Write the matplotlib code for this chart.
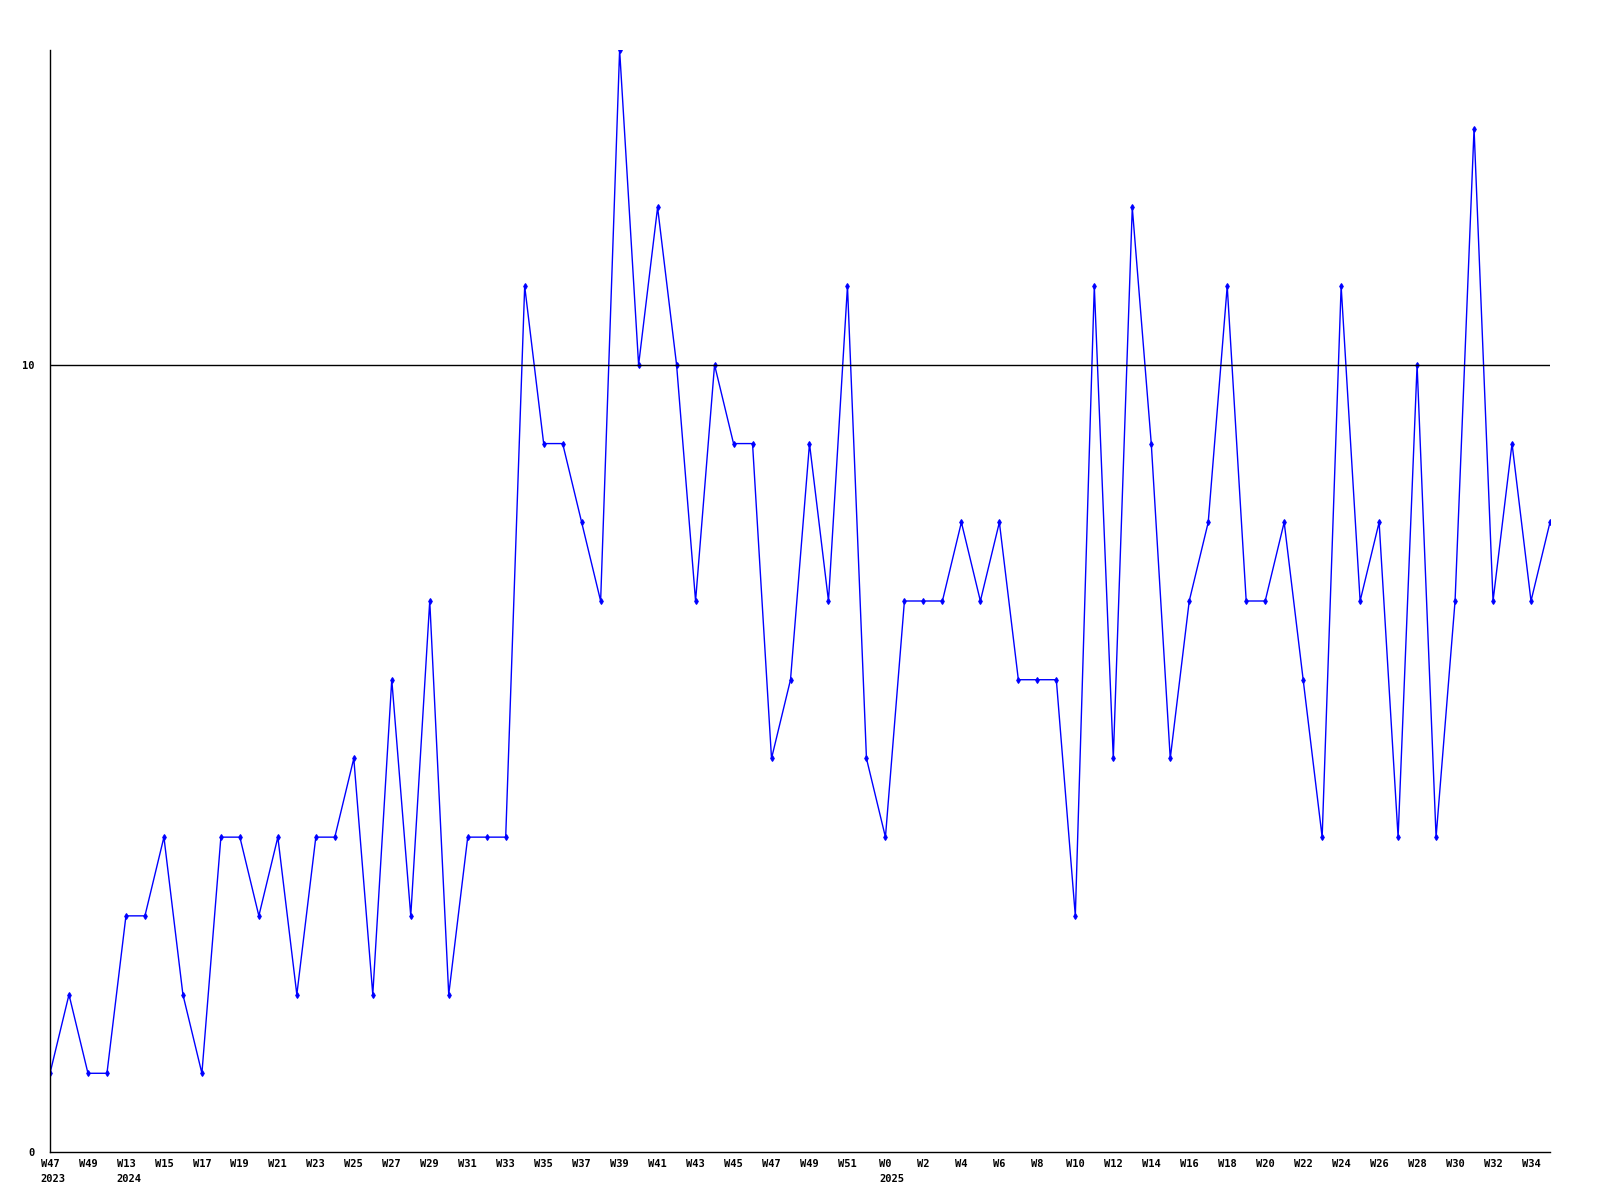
import matplotlib
matplotlib.use("Agg")
import matplotlib.pyplot as plt

# weekly counts, W47 2023 .. W35 2025 (weeks W51 2023..W12 2024 missing)
weeks = ["W47", "W48", "W49", "W50"] + ["W%d" % w for w in range(13, 53)] + ["W%d" % w for w in range(0, 36)]
counts = [1, 2, 1, 1, 3, 3, 4, 2, 1, 4,
          4, 3, 4, 2, 4, 4, 5, 2, 6, 3,
          7, 2, 4, 4, 4, 11, 9, 9, 8, 7,
          14, 10, 12, 10, 7, 10, 9, 9, 5, 6,
          9, 7, 11, 5, 4, 7, 7, 7, 8, 7,
          8, 6, 6, 6, 3, 11, 5, 12, 9, 5,
          7, 8, 11, 7, 7, 8, 6, 4, 11, 7,
          8, 4, 10, 4, 7, 13, 7, 9, 7, 8]
years = {0: "2023", 4: "2024", 44: "2025"}
ref_value = 10

x = list(range(len(counts)))
tick_pos = x[::2]
tick_lab = [weeks[i] for i in tick_pos]
fs = 7.5

fig = plt.figure(figsize=(16, 12), dpi=100)
ax = fig.add_axes([50/1600, 48/1200, 1500/1600, 1102/1200])

ax.plot(x, counts, color="#0000ff", linewidth=1, marker="d", markersize=3,
        markeredgewidth=0.8)
ax.axhline(ref_value, color="black", linewidth=1)

ax.set_xlim(0, len(counts) - 1)
ax.set_ylim(0, 14)
ax.set_yticks([0, 10])
ax.set_yticklabels(["0", "10"], family="DejaVu Sans Mono", fontweight="bold", fontsize=fs)
ax.set_xticks(tick_pos)
ax.set_xticklabels(tick_lab, family="DejaVu Sans Mono", fontweight="bold", fontsize=fs)
ax.tick_params(axis="both", length=0)
ax.tick_params(axis="y", pad=11)
ax.tick_params(axis="x", pad=5)

# year under the first week of each year, left edge lined up with the week label
for i, yr in years.items():
    half = len(weeks[i]) * 0.602 * fs / 2
    ax.annotate(yr, xy=(i, 0), xycoords=("data", "axes fraction"),
                xytext=(-half, -15.5), textcoords="offset points",
                ha="left", va="top", family="DejaVu Sans Mono",
                fontweight="bold", fontsize=fs)

for s in ["top", "right"]:
    ax.spines[s].set_visible(False)
ax.spines["left"].set_linewidth(1)
ax.spines["bottom"].set_linewidth(1)

fig.savefig("out.png", dpi=100)
